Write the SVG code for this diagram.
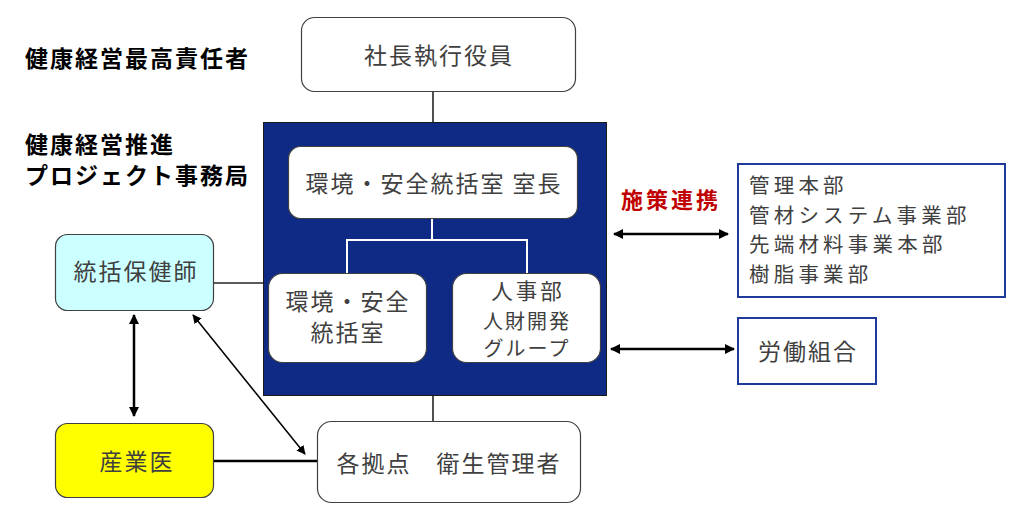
<svg xmlns="http://www.w3.org/2000/svg" width="1024" height="527" viewBox="0 0 1024 527">
<defs>
<style>
text{font-family:"Noto Sans CJK JP","Noto Sans",sans-serif;dominant-baseline:central;}
.t{font-size:23px;fill:#404040;letter-spacing:2px;text-anchor:middle;}
.tl{font-size:20.5px;fill:#404040;letter-spacing:4.2px;}
.s{font-size:20px;fill:#404040;letter-spacing:2px;text-anchor:middle;}
.h{font-size:23px;font-weight:bold;fill:#000;letter-spacing:2px;}
.r{font-size:22px;font-weight:bold;fill:#C00000;letter-spacing:3px;}
.box{fill:#fff;stroke:#404040;stroke-width:1.2;}
.bb{fill:#fff;stroke:#1F3A9A;stroke-width:2;}
.ln{stroke:#262626;stroke-width:1.6;fill:none;}
.wl{stroke:#fff;stroke-width:2;fill:none;}
.ar{stroke:#000;stroke-width:2.5;fill:none;marker-start:url(#ah);marker-end:url(#ah);}
.ad{stroke:#000;stroke-width:1.5;fill:none;marker-start:url(#ah2);marker-end:url(#ah2);}
</style>
<marker id="ah" viewBox="0 0 10 10" refX="9" refY="5" markerWidth="4" markerHeight="4" orient="auto-start-reverse" markerUnits="strokeWidth">
<path d="M0,0 L10,5 L0,10 z" fill="#000"/>
</marker>
<marker id="ah2" viewBox="0 0 10 10" refX="9" refY="5" markerWidth="6" markerHeight="6" orient="auto-start-reverse" markerUnits="strokeWidth">
<path d="M0,0 L10,5 L0,10 z" fill="#000"/>
</marker>
</defs>
<rect width="1024" height="527" fill="#fff"/>

<g id="labels">
<text class="h" x="25" y="57">健康経営最高責任者</text>
<text class="h" x="25" y="143">健康経営推進</text>
<text class="h" x="25" y="174">プロジェクト事務局</text>
<text class="r" x="621" y="198">施策連携</text>
</g>

<g id="connectors">
<line class="ln" x1="433" y1="91" x2="433" y2="122"/>
<line class="ln" x1="433" y1="395" x2="433" y2="421"/>
<line class="ln" x1="213" y1="283" x2="263" y2="283"/>
<line x1="213" y1="461" x2="317" y2="461" stroke="#000" stroke-width="2.5"/>
<line class="ar" x1="134" y1="315" x2="134" y2="416"/>
<line class="ad" x1="193" y1="315" x2="305" y2="454"/>
<line class="ar" x1="614" y1="234" x2="728" y2="234"/>
<line class="ar" x1="611" y1="349" x2="734" y2="349"/>
</g>

<g id="president">
<rect class="box" x="301.5" y="17.5" width="274" height="74" rx="13"/>
<text class="t" x="439" y="54">社長執行役員</text>
</g>

<g id="office">
<rect x="263.5" y="122.5" width="343" height="273" fill="#0E2A84" stroke="#1a1a1a" stroke-width="1"/>
<path class="wl" d="M432,218 V240 M347,240 H527 M347,239 V273 M527,239 V273"/>
</g>

<g id="chief">
<rect class="box" x="288.5" y="146.5" width="289" height="72" rx="12"/>
<text class="t" x="434" y="182">環境・安全統括室 室長</text>
</g>

<g id="safety">
<rect class="box" x="268.5" y="273.5" width="158" height="89" rx="14"/>
<text class="t" x="348" y="300">環境・安全</text>
<text class="t" x="348" y="331">統括室</text>
</g>

<g id="hr">
<rect class="box" x="452.5" y="273.5" width="148" height="89" rx="14"/>
<text class="t" x="528" y="289" style="font-size:21.5px;letter-spacing:3px">人事部</text>
<text class="s" x="527" y="320">人財開発</text>
<text class="s" x="527" y="347.5">グループ</text>
</g>

<g id="sites">
<rect class="box" x="317.5" y="421.5" width="263" height="81" rx="14"/>
<text class="t" x="449" y="462">各拠点　衛生管理者</text>
</g>

<g id="nurse">
<rect x="55.5" y="234.5" width="158" height="76" rx="12" fill="#CCFFFF" stroke="#404040" stroke-width="1.2"/>
<text class="t" x="136" y="270">統括保健師</text>
</g>

<g id="doctor">
<rect x="55.5" y="423.5" width="158" height="74" rx="12" fill="#FFFF00" stroke="#404040" stroke-width="1.2"/>
<text class="t" x="137" y="460">産業医</text>
</g>

<g id="divisions">
<rect class="bb" x="738" y="164" width="267" height="133"/>
<text class="tl" x="749" y="184">管理本部</text>
<text class="tl" x="749" y="213.7">管材システム事業部</text>
<text class="tl" x="749" y="243.4">先端材料事業本部</text>
<text class="tl" x="749" y="273.1">樹脂事業部</text>
</g>

<g id="union">
<rect class="bb" x="738" y="318" width="138" height="66"/>
<text class="t" x="808" y="350">労働組合</text>
</g>
</svg>
